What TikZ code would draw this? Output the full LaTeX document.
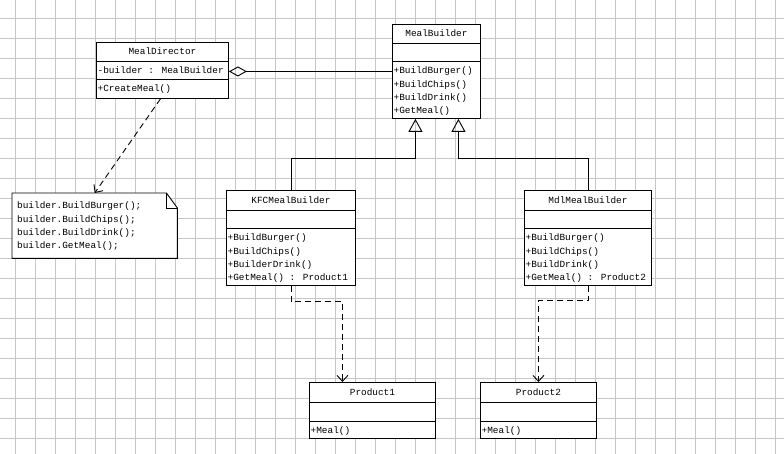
\documentclass[tikz,border=0pt]{standalone}
\usepackage{fontspec}
\newfontfamily\umlfont{Liberation Mono}
\usetikzlibrary{arrows.meta,calc}
% #1 name, #2 top-left, #3 width, #4 header h, #5 attr h, #6 ops h, #7 title, #8 attrs, #9 ops
\newcommand\umlclass[9]{%
  \node[classbox, minimum width=#3, minimum height=#4+#5+#6, anchor=north west] (#1) at #2 {};
  \draw[divider] ($(#1.north west)+(0,#4)$) -- ($(#1.north east)+(0,#4)$);
  \draw[divider] ($(#1.north west)+(0,#4+#5)$) -- ($(#1.north east)+(0,#4+#5)$);
  \node[umltxt] (#1-title) at ($(#1.north)+(0,#4/2)$) {#7};
  \node[ops] (#1-attr) at ($(#1.north west)+(0,#4)$) {\strut#8};
  \node[ops] (#1-ops) at ($(#1.north west)+(0,#4+#5)$) {\strut#9};
}
\begin{document}
\begin{tikzpicture}[x=1pt,y=-1pt,
  classbox/.style={draw=black, line width=0.9pt, fill=white, inner sep=0pt},
  divider/.style={draw=black, line width=0.9pt},
  umltxt/.style={font=\umlfont\fontsize{9.4}{13.3}\selectfont, text=black, inner sep=0pt},
  ops/.style={umltxt, anchor=north west, align=left, inner xsep=1.5pt, inner ysep=3.3pt},
  gridline/.style={draw=gray!45, line width=0.6pt},
  aggr/.style={draw=black, line width=0.9pt, {Diamond[open,length=18pt,width=10pt,line width=0.9pt]}-},
  inherit/.style={draw=black, line width=0.9pt, -{Triangle[open,length=13pt,width=14pt,line width=0.9pt]}},
  dep/.style={draw=black, line width=0.9pt, dash pattern=on 6pt off 4pt, -{Straight Barb[length=6pt,width=11pt,line width=0.9pt]}},
  notebox/.style={draw=black, line width=0.9pt, fill=white}
]
\useasboundingbox (0,0) rectangle (784,454);
\fill[white] (0,0) rectangle (784,454);
\foreach \gx in {15,35,...,775} \draw[gridline] (\gx,0) -- (\gx,454);
\foreach \gy in {18,38,...,438} \draw[gridline] (0,\gy) -- (784,\gy);

\umlclass{md}{(96,42)}{132}{19}{18}{19}{MealDirector}{-builder : MealBuilder}{+CreateMeal()}
\umlclass{mb}{(392,24)}{88}{19}{18}{57}{MealBuilder}{}{+BuildBurger()\\+BuildChips()\\+BuildDrink()\\+GetMeal()}
\umlclass{kfc}{(226,190)}{129}{20}{18}{57}{KFCMealBuilder}{}{+BuildBurger()\\+BuildChips()\\+BuilderDrink()\\+GetMeal() : Product1}
\umlclass{mdl}{(524,190)}{127}{20}{18}{57}{MdlMealBuilder}{}{+BuildBurger()\\+BuildChips()\\+BuildDrink()\\+GetMeal() : Product2}
\umlclass{p1}{(309,382)}{126}{20}{19}{17}{Product1}{}{+Meal()}
\umlclass{p2}{(480,382)}{116}{20}{19}{17}{Product2}{}{+Meal()}

% note
\node[inner sep=0pt, minimum width=165, minimum height=65, anchor=north west] (note) at (12,193) {};
\draw[notebox] (note.north west) -- ($(note.north east)+(-11,0)$) -- ($(note.north east)+(0,15)$) -- (note.south east) -- (note.south west) -- cycle;
\draw[divider] ($(note.north east)+(-11,0)$) -- ($(note.north east)+(-11,15)$) -- ($(note.north east)+(0,15)$);
\node[ops, inner xsep=0pt] (notetext) at ($(note.north west)+(5,3)$) {\strut builder.BuildBurger();\\builder.BuildChips();\\builder.BuildDrink();\\builder.GetMeal();};

% connectors
\draw[aggr] ($(md.east)+(0,1)$) -- (mb.west);
\draw[dep] ($(md.south)+(-2,0)$) -- (note.north);
\draw[inherit] (kfc.north) |- ($(mb.south)+(-21,40)$) -- ($(mb.south)+(-21,0)$);
\draw[inherit] (mdl.north) |- ($(mb.south)+(22,40)$) -- ($(mb.south)+(22,0)$);
\draw[dep] (kfc.south) -- ++(0,16) -| ($(p1.north)+(-30,0)$);
\draw[dep] (mdl.south) -- ++(0,15) -| (p2.north);
\end{tikzpicture}
\end{document}
